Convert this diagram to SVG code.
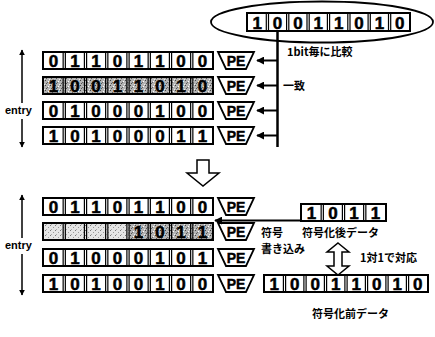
<svg xmlns="http://www.w3.org/2000/svg" xmlns:xlink="http://www.w3.org/1999/xlink" width="435" height="337" viewBox="0 0 435 337">
<style>
.d{font-family:"Liberation Sans",Arial,sans-serif;font-weight:bold;font-size:17px;text-anchor:middle;fill:#000;stroke:#000;stroke-width:0.5}
.db{font-family:"Liberation Sans",Arial,sans-serif;font-weight:bold;font-size:17px;text-anchor:middle;fill:#000;stroke:#000;stroke-width:0.5}
.pe{font-family:"Liberation Sans",Arial,sans-serif;font-weight:bold;font-size:14px;text-anchor:middle;fill:#000;stroke:#000;stroke-width:0.4}
.jp{font-family:"Noto Sans CJK JP","Liberation Sans",sans-serif;font-weight:bold;font-size:11px;fill:#000}
.en{font-family:"Liberation Sans",Arial,sans-serif;font-weight:bold;font-size:11px;fill:#000}
.box{fill:none;stroke:#000;stroke-width:2}
.div{stroke:#000;stroke-width:1.2;fill:none}
.pes{fill:#fff;stroke:#000;stroke-width:1.8;stroke-linejoin:miter}
.ln{stroke:#000;fill:none}
.hol{fill:#fff;stroke:#000;stroke-width:1.5}
</style>
<defs>
<pattern id="st" width="5" height="5" patternUnits="userSpaceOnUse">
<rect width="5" height="5" fill="#b4b4b4"/>
<rect x="0" y="0" width="1" height="1" fill="#444"/>
<rect x="3" y="1" width="1" height="1" fill="#fff"/>
<rect x="1" y="3" width="1" height="1" fill="#555"/>
<rect x="4" y="4" width="1" height="1" fill="#eee"/>
<rect x="2" y="2" width="1" height="1" fill="#666"/>
</pattern>
<pattern id="stl" width="5" height="5" patternUnits="userSpaceOnUse">
<rect width="5" height="5" fill="#e4e4e4"/>
<rect x="0" y="0" width="1" height="1" fill="#777"/>
<rect x="3" y="2" width="1" height="1" fill="#999"/>
<rect x="1" y="4" width="1" height="1" fill="#aaa"/>
</pattern>
<g id="grid8">
<rect class="box" x="43" y="0" width="170" height="17"/>
<path class="div" d="M63.15 0v17M65.35 0v17M84.4 0v17M86.6 0v17M105.65 0v17M107.85 0v17M126.9 0v17M129.1 0v17M148.15 0v17M150.35 0v17M169.4 0v17M171.6 0v17M190.65 0v17M192.85 0v17"/>
</g>
<g id="pe">
<polygon class="pes" points="218,0 254,0 246,17 226,17"/>
<text class="pe" x="236" y="14">PE</text>
</g>
<marker id="ah" viewBox="0 0 10 10" refX="9" refY="5" markerWidth="4" markerHeight="4" orient="auto-start-reverse">
<path d="M0,0L10,5L0,10z" fill="#000"/>
</marker>
</defs>

<!-- search key -->
<g id="key">
<ellipse cx="322" cy="22" rx="111" ry="20.5" fill="none" stroke="#000" stroke-width="1.8"/>
<rect class="box" x="247" y="13" width="163" height="18"/>
<path class="div" d="M266.3 13v18M268.5 13v18M286.6 13v18M288.8 13v18M307 13v18M309.2 13v18M327.4 13v18M329.6 13v18M347.8 13v18M350 13v18M368.1 13v18M370.3 13v18M388.5 13v18M390.7 13v18"/>
<text class="db" x="257.2 277.6 297.9 318.3 338.7 359.1 379.4 399.8" y="29">10011010</text>
</g>

<!-- top group -->
<g id="t1">
<use xlink:href="#grid8" y="52"/>
<text class="d" x="53.6 74.9 96.1 117.4 138.6 159.9 181.1 202.4" y="66.8">01101100</text>
<use xlink:href="#pe" y="52"/>
</g>
<g id="t2">
<rect x="43" y="77" width="170" height="17" fill="url(#st)"/>
<use xlink:href="#grid8" y="77"/>
<text class="d" x="53.6 74.9 96.1 117.4 138.6 159.9 181.1 202.4" y="91.8">10011010</text>
<use xlink:href="#pe" y="77"/>
</g>
<g id="t3">
<use xlink:href="#grid8" y="102"/>
<text class="d" x="53.6 74.9 96.1 117.4 138.6 159.9 181.1 202.4" y="116.8">01000100</text>
<use xlink:href="#pe" y="102"/>
</g>
<g id="t4">
<use xlink:href="#grid8" y="127"/>
<text class="d" x="53.6 74.9 96.1 117.4 138.6 159.9 181.1 202.4" y="141.8">10100011</text>
<use xlink:href="#pe" y="127"/>
</g>

<!-- bottom group -->
<g id="b1">
<use xlink:href="#grid8" y="198"/>
<text class="d" x="53.6 74.9 96.1 117.4 138.6 159.9 181.1 202.4" y="212.8">01101100</text>
<use xlink:href="#pe" y="198"/>
</g>
<g id="b2">
<rect x="43" y="223" width="85" height="17" fill="url(#stl)"/>
<rect x="128" y="223" width="85" height="17" fill="url(#st)"/>
<use xlink:href="#grid8" y="223"/>
<text class="d" x="138.6 159.9 181.1 202.4" y="237.8">1011</text>
<use xlink:href="#pe" y="223"/>
</g>
<g id="b3">
<use xlink:href="#grid8" y="249"/>
<text class="d" x="53.6 74.9 96.1 117.4 138.6 159.9 181.1 202.4" y="263.8">01000101</text>
<use xlink:href="#pe" y="249"/>
</g>
<g id="b4">
<use xlink:href="#grid8" y="275"/>
<text class="d" x="53.6 74.9 96.1 117.4 138.6 159.9 181.1 202.4" y="289.8">10100100</text>
<use xlink:href="#pe" y="275"/>
</g>

<g id="enc">
<rect class="box" x="301" y="204" width="85" height="17"/>
<path class="div" d="M321.15 204v17M323.35 204v17M342.4 204v17M344.6 204v17M363.65 204v17M365.85 204v17"/>
<text class="d" x="311.6 332.9 354.1 375.4" y="218.8">1011</text>
</g>
<g id="orig">
<rect class="box" x="264" y="275" width="164" height="17"/>
<path class="div" d="M283.4 275v17M285.6 275v17M303.9 275v17M306.1 275v17M324.4 275v17M326.6 275v17M344.9 275v17M347.1 275v17M365.4 275v17M367.6 275v17M385.9 275v17M388.1 275v17M406.4 275v17M408.6 275v17"/>
<text class="d" x="274.25 294.75 315.25 335.75 356.25 376.75 397.25 417.75" y="289.8">10011010</text>
</g>

<!-- labels -->
<g id="labels">
<text class="jp" x="287" y="56">1bit毎に比較</text>
<text class="jp" x="283" y="90" font-size="12">一致</text>
<text class="en" x="5" y="114">entry</text>
<text class="en" x="5" y="249">entry</text>
<text class="jp" x="261" y="237" font-size="10.5">符号</text>
<text class="jp" x="261" y="253" font-size="10.5">書き込み</text>
<text class="jp" x="302" y="237">符号化後データ</text>
<text class="jp" x="360" y="262">1対1で対応</text>
<text class="jp" x="312" y="318">符号化前データ</text>
</g>

<!-- connectors -->
<g id="connectors">
<path class="ln" stroke-width="2.5" d="M277.5 31V147"/>
<path class="ln" stroke-width="2" marker-end="url(#ah)" d="M277.5 60.5H257"/>
<path class="ln" stroke-width="2" marker-end="url(#ah)" d="M277.5 85.5H257"/>
<path class="ln" stroke-width="2" marker-end="url(#ah)" d="M277.5 110.5H257"/>
<path class="ln" stroke-width="2" marker-end="url(#ah)" d="M277.5 135.5H257"/>
<path class="ln" stroke-width="2" marker-end="url(#ah)" d="M301 220.5H215"/>
<path class="ln" stroke-width="1.5" marker-start="url(#ah)" d="M22 50V103"/>
<path class="ln" stroke-width="1.5" marker-end="url(#ah)" d="M22 119V147"/>
<path class="ln" stroke-width="1.5" marker-start="url(#ah)" d="M22 195V238"/>
<path class="ln" stroke-width="1.5" marker-end="url(#ah)" d="M22 254V295"/>
<polygon class="hol" points="197,160 209,160 209,173 219,173 203,186 187,173 197,173"/>
<polygon class="hol" points="338,243 349,252 342,252 342,266 349,266 338,275 327,266 334,266 334,252 327,252"/>
</g>
</svg>
